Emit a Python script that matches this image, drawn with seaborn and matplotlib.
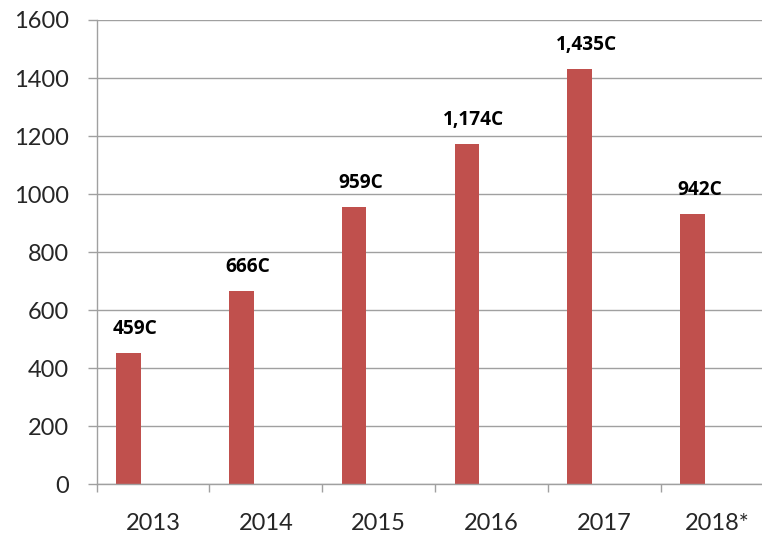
import pandas as pd
import numpy as np
import matplotlib
matplotlib.use("Agg")
import matplotlib.pyplot as plt
import seaborn as sns

# Values
years = ["2013", "2014", "2015", "2016", "2017", "2018*"]
values = [454, 665, 957, 1174, 1432, 931]
bar_labels = ["459C", "666C", "959C", "1,174C", "1,435C", "942C"]

df = pd.DataFrame({"Year": years, "Value": values, "Series": "main"})

sns.set_style("white")
plt.rcParams["font.family"] = ["Lato", "DejaVu Sans"]

grey = "#a0a0a0"
fig = plt.figure(figsize=(7.62, 5.35), dpi=100)
ax = fig.add_axes([96.7 / 762, (535 - 484.3) / 535, 676.8 / 762, 464.3 / 535])

# second (empty) series keeps the bar in the left half of each category, as in Excel
sns.barplot(data=df, x="Year", y="Value", hue="Series", hue_order=["main", "empty"],
            palette={"main": "#C0504D", "empty": "#4F81BD"}, width=0.872, gap=0.5,
            dodge=True, saturation=1, linewidth=0, legend=False, ax=ax)

texts = ax.bar_label(ax.containers[0], labels=bar_labels, padding=10,
                     fontsize=13.8, fontweight="bold", color="black",
                     family=["Open Sans", "DejaVu Sans"])
for t in texts:
    t.xyann = (5, t.xyann[1])

ax.set_ylim(0, 1600)
ax.set_yticks(np.arange(0, 1601, 200))
ax.set_xlim(-0.5, 5.5)
ax.set_xlabel("")
ax.set_ylabel("")

ax.yaxis.grid(True, color=grey, linewidth=1)
ax.set_axisbelow(True)
for side in ["top", "right"]:
    ax.spines[side].set_visible(False)
for side in ["left", "bottom"]:
    ax.spines[side].set_color(grey)
    ax.spines[side].set_linewidth(1)

ax.tick_params(axis="y", length=6.5, width=1, color=grey, pad=13.5, labelsize=17, left=True)
ax.tick_params(axis="x", which="major", length=0, pad=21, labelsize=17)
ax.set_xticks(np.arange(-0.5, 6, 1), minor=True)
ax.tick_params(axis="x", which="minor", length=6, width=1, color=grey, bottom=True)

fig.savefig("out.png", dpi=100)
